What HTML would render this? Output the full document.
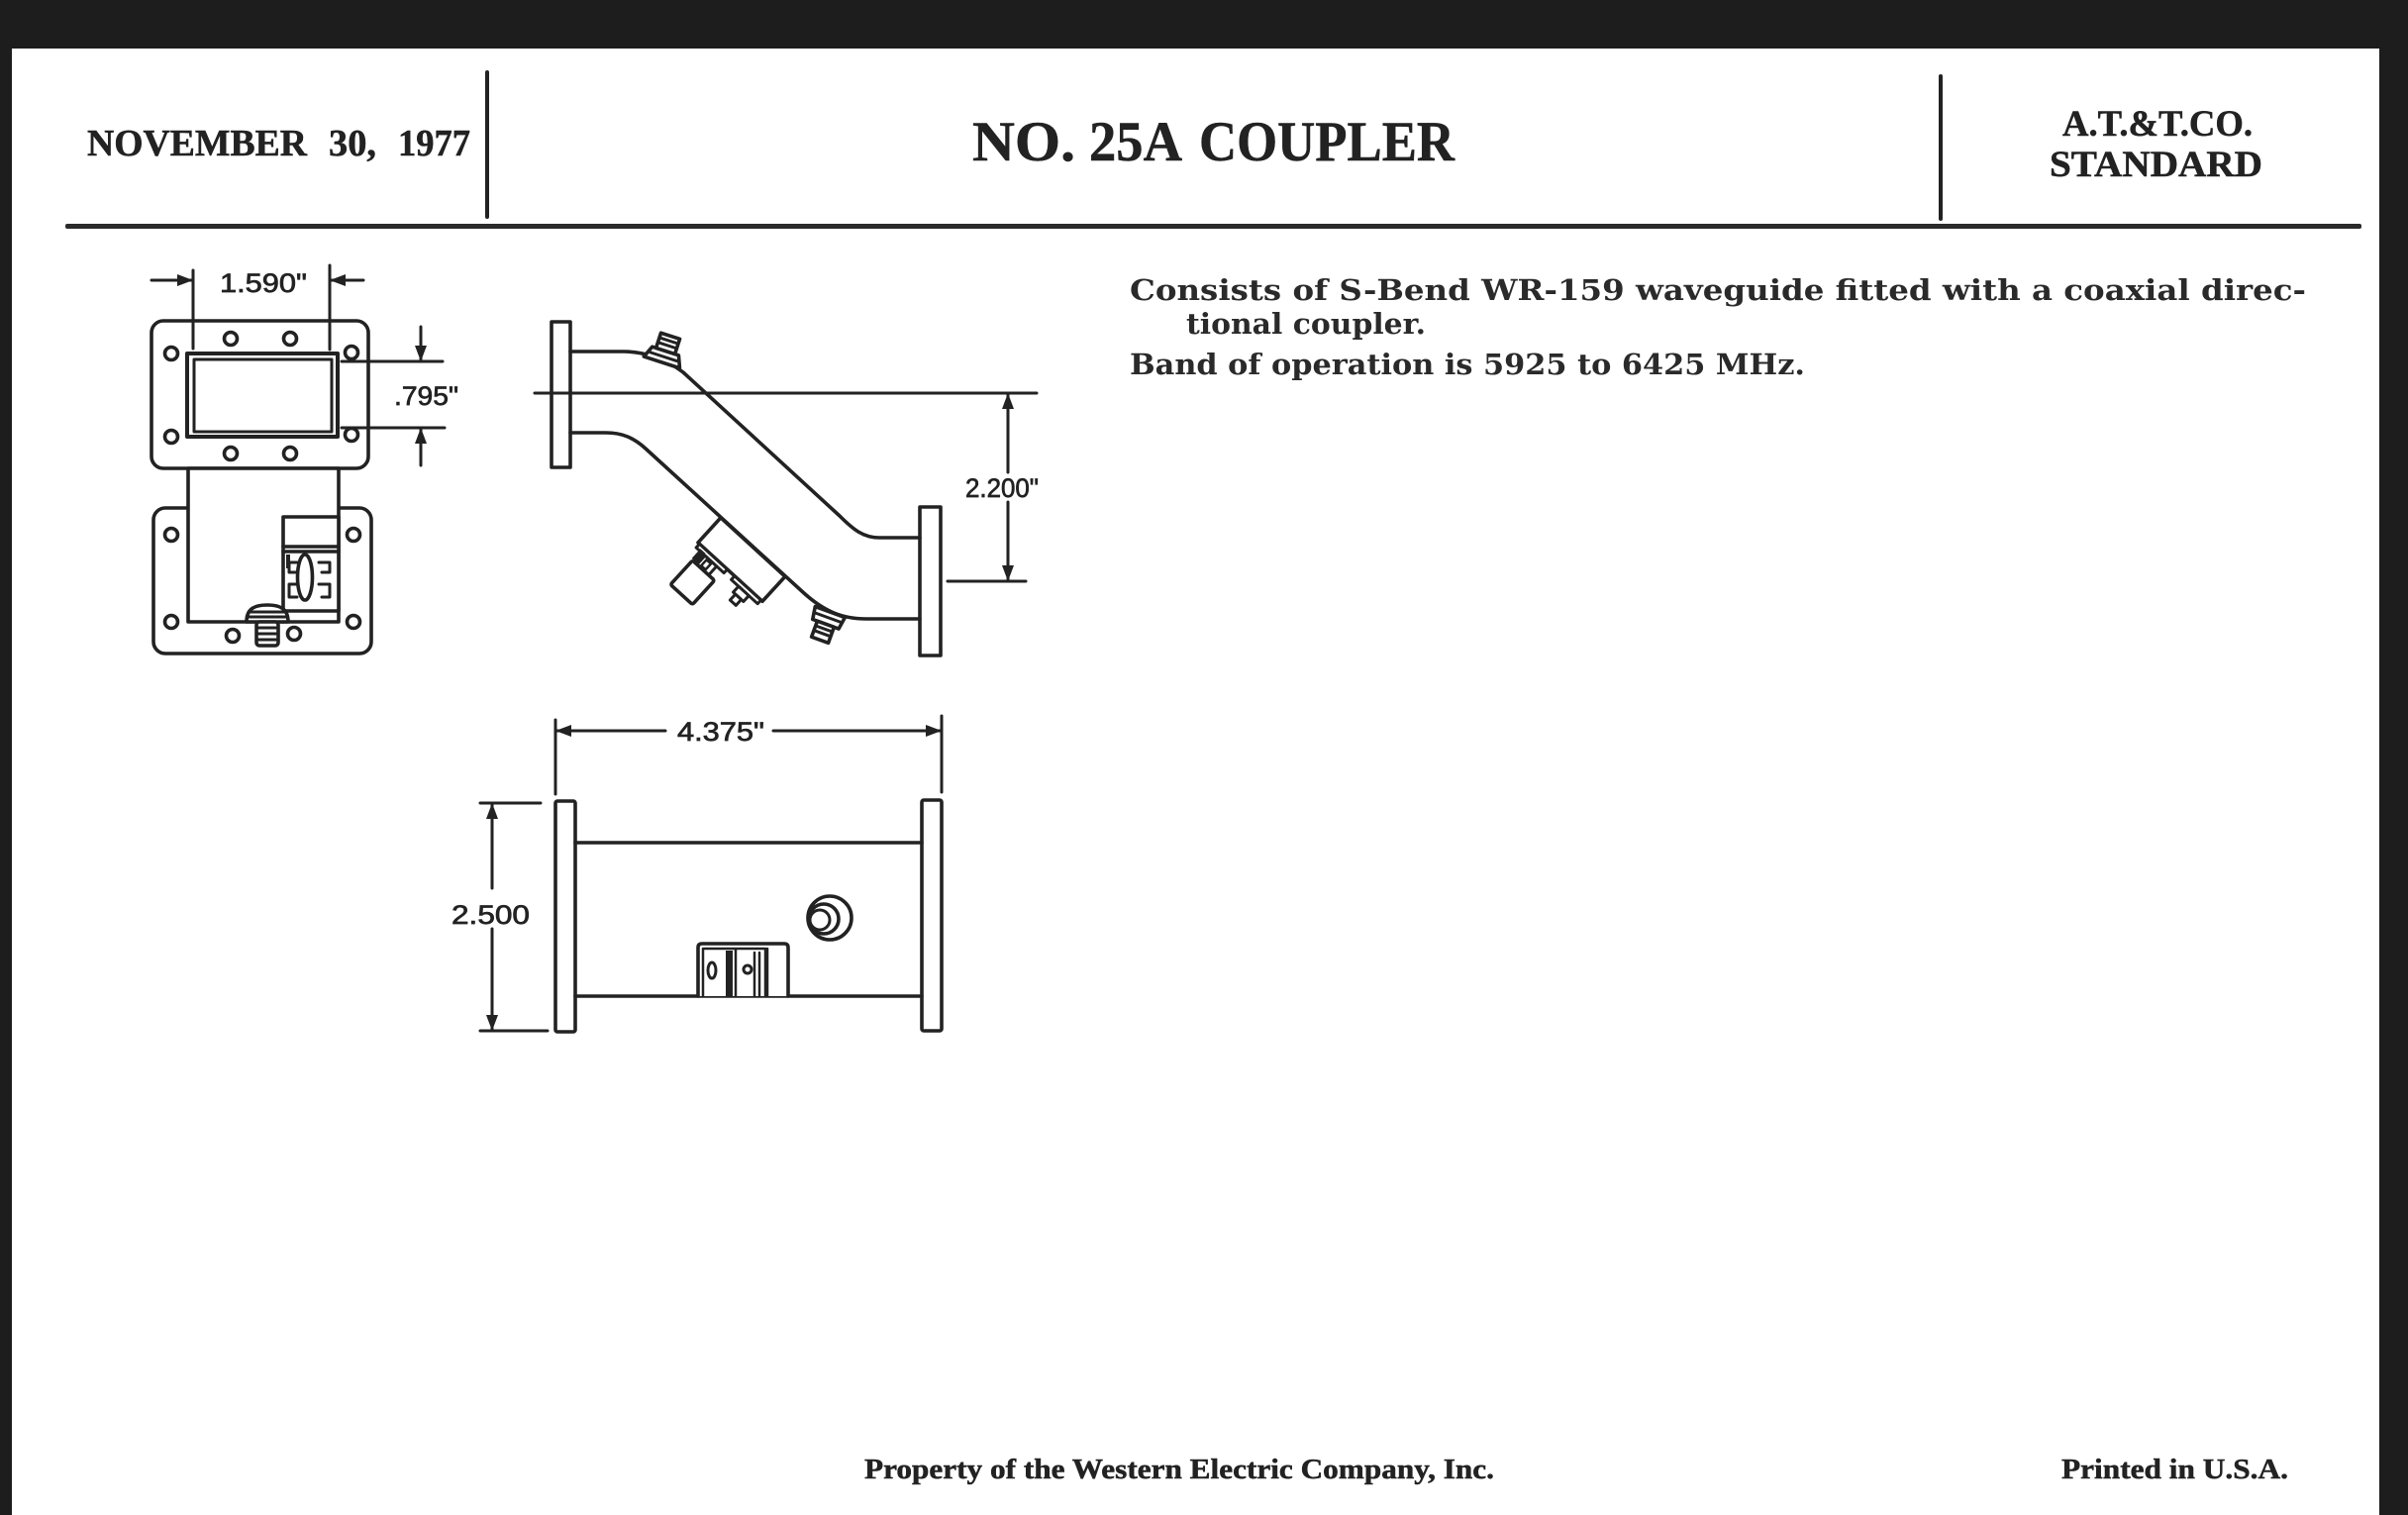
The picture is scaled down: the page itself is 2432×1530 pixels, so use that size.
<!DOCTYPE html>
<html>
<head>
<meta charset="utf-8">
<style>
html,body{margin:0;padding:0;background:#fff;}
svg{display:block;}
.hd{font-family:"Liberation Serif","DejaVu Serif",serif;font-weight:bold;fill:#222;stroke:#222;stroke-width:0.5;}
.bd{font-family:"DejaVu Serif","Liberation Serif",serif;font-weight:bold;fill:#2a2a2a;}
.dm{font-family:"Liberation Sans","DejaVu Sans",sans-serif;fill:#222;stroke:#222;stroke-width:0.7;}
</style>
</head>
<body>
<svg width="2432" height="1530" viewBox="0 0 2432 1530" xmlns="http://www.w3.org/2000/svg">
<!-- background / scan edges -->
<rect x="0" y="0" width="2432" height="1530" fill="#ffffff"/>
<rect x="0" y="0" width="2432" height="49" fill="#1d1d1d"/>
<rect x="0" y="0" width="12" height="1530" fill="#1d1d1d"/>
<rect x="2403" y="0" width="29" height="1530" fill="#1d1d1d"/>

<!-- header rules -->
<rect x="66" y="226" width="2319" height="5" rx="2" fill="#2a2a2a"/>
<rect x="490" y="71" width="4" height="150" rx="2" fill="#222"/>
<rect x="1958" y="75" width="4" height="148" rx="2" fill="#222"/>

<!-- header text -->
<text class="hd" x="88" y="157" font-size="38" textLength="222" lengthAdjust="spacingAndGlyphs">NOVEMBER</text>
<text class="hd" x="332" y="157" font-size="38" textLength="48" lengthAdjust="spacingAndGlyphs">30,</text>
<text class="hd" x="402" y="157" font-size="38" textLength="73" lengthAdjust="spacingAndGlyphs">1977</text>

<text class="hd" x="982" y="162" font-size="57" textLength="104" lengthAdjust="spacingAndGlyphs">NO.</text>
<text class="hd" x="1100" y="162" font-size="57" textLength="94" lengthAdjust="spacingAndGlyphs">25A</text>
<text class="hd" x="1211" y="162" font-size="57" textLength="258" lengthAdjust="spacingAndGlyphs">COUPLER</text>

<text class="hd" x="2083" y="137" font-size="37" textLength="192" lengthAdjust="spacingAndGlyphs">A.T.&amp;T.CO.</text>
<text class="hd" x="2070" y="178" font-size="37" textLength="215" lengthAdjust="spacingAndGlyphs">STANDARD</text>

<!-- body text -->
<text class="bd" x="1141" y="303" font-size="29" textLength="1188" lengthAdjust="spacingAndGlyphs">Consists of S-Bend WR-159 waveguide fitted with a coaxial direc-</text>
<text class="bd" x="1198" y="337" font-size="29" textLength="242" lengthAdjust="spacingAndGlyphs">tional coupler.</text>
<text class="bd" x="1141" y="378" font-size="29" textLength="682" lengthAdjust="spacingAndGlyphs">Band of operation is 5925 to 6425 MHz.</text>

<!-- footer -->
<text class="hd" x="873" y="1493" font-size="29" textLength="636" lengthAdjust="spacingAndGlyphs">Property of the Western Electric Company, Inc.</text>
<text class="hd" x="2082" y="1493" font-size="29" textLength="229" lengthAdjust="spacingAndGlyphs">Printed in U.S.A.</text>

<!-- ============ FRONT VIEW ============ -->
<g fill="none" stroke="#222" stroke-width="3.6" stroke-linejoin="round" stroke-linecap="round">
  <!-- top flange -->
  <rect x="153" y="324" width="219" height="149" rx="12" fill="#fff"/>
  <rect x="189" y="357" width="152" height="84" stroke-width="4"/>
  <rect x="196" y="363" width="139" height="73" stroke-width="3"/>
  <circle cx="173" cy="357" r="6.5"/>
  <circle cx="233" cy="342" r="6.5"/>
  <circle cx="293" cy="342" r="6.5"/>
  <circle cx="355" cy="356" r="6.5"/>
  <circle cx="173" cy="441" r="6.5"/>
  <circle cx="233" cy="458" r="6.5"/>
  <circle cx="293" cy="458" r="6.5"/>
  <circle cx="355" cy="439" r="6.5"/>
  <!-- bottom flange -->
  <rect x="155" y="513" width="220" height="147" rx="12" fill="#fff"/>
  <circle cx="173" cy="540" r="6.5"/>
  <circle cx="357" cy="540" r="6.5"/>
  <circle cx="173" cy="628" r="6.5"/>
  <circle cx="357" cy="628" r="6.5"/>
  <circle cx="235" cy="642" r="6.5"/>
  <circle cx="297" cy="640" r="6.5"/>
  <!-- body -->
  <rect x="190" y="473" width="152" height="155" fill="#fff"/>
  <!-- coupler box -->
  <rect x="286" y="522" width="56" height="95" fill="#fff"/>
  <path d="M286,552 H342 M286,557 H342 M286,617 V628"/>
  <ellipse cx="308" cy="583" rx="7.5" ry="23"/>
  <path d="M300,568 H292 V578 H300 M300,590 H292 V603 H300" stroke-width="3"/>
  <path d="M322,568 H333 V578 H325 M322,590 H333 V603 H325" stroke-width="3"/>
  <rect x="289" y="560" width="4" height="14" fill="#222" stroke="none"/>
  <!-- bottom connector -->
  <path d="M249,628 C249,614 258,611 270,611 C282,611 291,614 291,628 Z" fill="#fff"/>
  <path d="M251,618 H289 M250,623 H290" stroke-width="3"/>
  <rect x="259" y="628" width="22" height="24" rx="3" fill="#fff"/>
  <path d="M260,634 H280 M260,640 H280 M260,646 H280" stroke-width="3"/>
</g>
<!-- front view dims -->
<g fill="none" stroke="#222" stroke-width="3" stroke-linecap="round">
  <path d="M195,273 V352 M333,268 V353"/>
  <path d="M153,283 H195 M367,283 H333"/>
  <path d="M345,365 H447 M345,432 H449"/>
  <path d="M425,330 V365 M425,470 V432"/>
</g>
<g fill="#222">
  <polygon points="195,283 179,277 179,289"/>
  <polygon points="333,283 349,277 349,289"/>
  <polygon points="425,365 419,349 431,349"/>
  <polygon points="425,432 419,448 431,448"/>
</g>
<text class="dm" x="222" y="295" font-size="27" textLength="88" lengthAdjust="spacingAndGlyphs">1.590"</text>
<text class="dm" x="398" y="409" font-size="27" textLength="65" lengthAdjust="spacingAndGlyphs">.795"</text>

<!-- ============ SIDE VIEW (S-BEND) ============ -->
<g fill="none" stroke="#222" stroke-width="3.6" stroke-linejoin="round" stroke-linecap="round">
  <path d="M576,355 H630 C650,355 672,362 690,376 L848,521 C862,535 872,543 888,543 H929"/>
  <path d="M576,437 H612 C628,437 640,442 652,453 L812,599 C832,617 850,625 875,625 H929"/>
  <rect x="557" y="325" width="19" height="147"/>
  <rect x="929" y="512" width="21" height="150"/>
  <!-- top connector -->
  <g transform="translate(669,364) rotate(18)">
    <path d="M-19,2 L-14,-10 L14,-10 L19,2 Z" fill="#fff"/>
    <rect x="-10" y="-26" width="20" height="16" fill="#fff"/>
    <path d="M-8,-21 H8 M-8,-16 H8 M-14,-4 H14" stroke-width="3"/>
  </g>
  <!-- bottom connector -->
  <g transform="translate(838,619) rotate(20)">
    <path d="M-16,-1 L-14,12 L14,12 L16,-1 Z" fill="#fff"/>
    <rect x="-9" y="12" width="18" height="17" fill="#fff"/>
    <path d="M-13,5 H13 M-8,17 H8 M-8,22 H8" stroke-width="3"/>
  </g>
  <!-- coupler box on diagonal -->
  <g transform="translate(705,548) rotate(42.4)">
    <rect x="0" y="-34" width="88" height="34" fill="#fff"/>
    <rect x="2" y="0" width="38" height="5" fill="#fff" stroke-width="3"/>
    <rect x="14" y="5" width="16" height="12" fill="#fff" stroke-width="3"/>
    <rect x="18" y="7" width="6" height="8" stroke-width="2.5"/>
    <rect x="6" y="3" width="7" height="13" fill="#222" stroke="none"/>
    <rect x="8" y="17" width="30" height="33" rx="2" fill="#fff"/>
    <rect x="50" y="0" width="36" height="5" fill="#fff" stroke-width="3"/>
    <rect x="60" y="5" width="14" height="8" fill="#fff" stroke-width="3"/>
    <rect x="63" y="13" width="8" height="8" fill="#fff" stroke-width="3"/>
  </g>
</g>
<!-- side view dims -->
<g fill="none" stroke="#222" stroke-width="3" stroke-linecap="round">
  <path d="M540,397 H1047"/>
  <path d="M957,587 H1036"/>
  <path d="M1018,397 V477 M1018,507 V587"/>
</g>
<g fill="#222">
  <polygon points="1018,397 1012,413 1024,413"/>
  <polygon points="1018,587 1012,571 1024,571"/>
</g>
<text class="dm" x="975" y="502" font-size="27" textLength="74" lengthAdjust="spacingAndGlyphs">2.200"</text>

<!-- ============ BOTTOM VIEW ============ -->
<g fill="none" stroke="#222" stroke-width="3.6" stroke-linejoin="round" stroke-linecap="round">
  <rect x="561" y="809" width="20" height="233" rx="2"/>
  <rect x="931" y="808" width="20" height="233" rx="2"/>
  <path d="M581,851 H931 M581,1006 H931"/>
  <!-- round connector -->
  <circle cx="838" cy="927" r="22" fill="#fff"/>
  <circle cx="832" cy="928" r="15"/>
  <circle cx="828" cy="929" r="10" stroke-width="3"/>
  <!-- coupler box -->
  <path d="M705,1006 V957 Q705,953 709,953 H792 Q796,953 796,957 V1006" fill="#fff"/>
  <path d="M710,958 H773 M710,958 V1006 M743,958 V1006 M762,962 V1006 M767,962 V1006 M773,958 V1006 M775,958 V1006" stroke-width="2.5"/>
  <rect x="733" y="960" width="7" height="46" fill="#222" stroke="none"/>
  <ellipse cx="719" cy="980" rx="4" ry="8" stroke-width="3"/>
  <circle cx="755" cy="979" r="4" stroke-width="3"/>
</g>
<!-- bottom view dims -->
<g fill="none" stroke="#222" stroke-width="3" stroke-linecap="round">
  <path d="M561,727 V802 M951,723 V800"/>
  <path d="M561,738 H672 M781,738 H951"/>
  <path d="M485,811 H546 M485,1041 H553"/>
  <path d="M497,811 V897 M497,938 V1041"/>
</g>
<g fill="#222">
  <polygon points="561,738 577,732 577,744"/>
  <polygon points="951,738 935,732 935,744"/>
  <polygon points="497,811 491,827 503,827"/>
  <polygon points="497,1041 491,1025 503,1025"/>
</g>
<text class="dm" x="684" y="748" font-size="27" textLength="88" lengthAdjust="spacingAndGlyphs">4.375"</text>
<text class="dm" x="456" y="933" font-size="27" textLength="79" lengthAdjust="spacingAndGlyphs">2.500</text>
</svg>
</body>
</html>
